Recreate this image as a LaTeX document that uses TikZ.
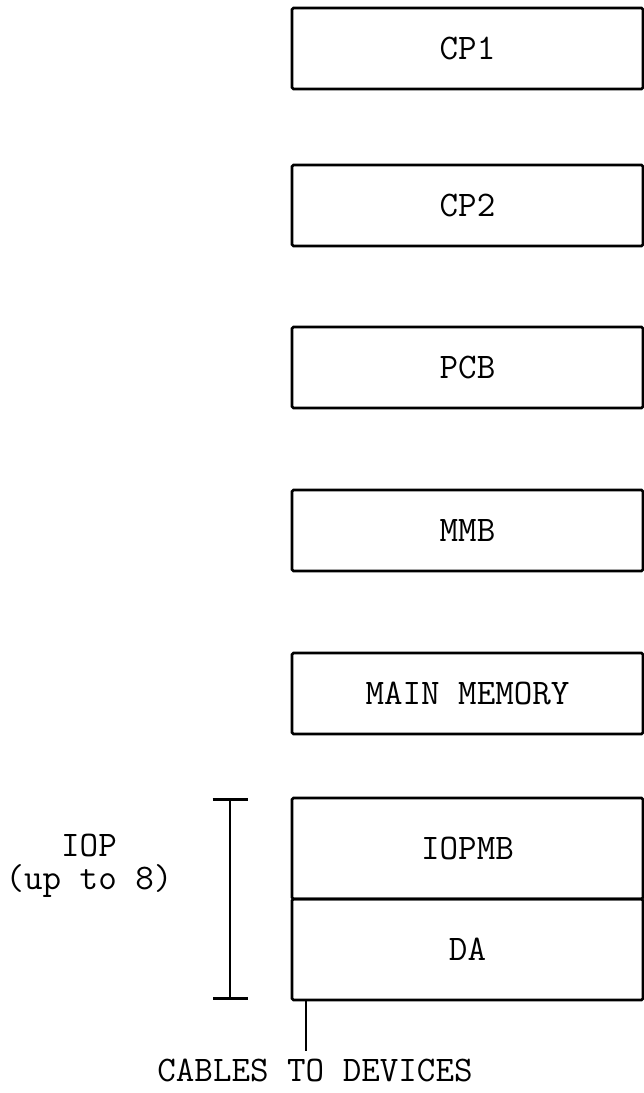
\documentclass[tikz,border=0pt]{standalone}
\usepackage{fontspec}
\usetikzlibrary{positioning,arrows.meta}
\newcommand{\typefont}{\ttfamily\fontsize{36}{33}\selectfont}
\tikzset{
    unitbox/.style={
        rectangle,
        draw,
        line width=2.8pt,
        rounded corners=1.5pt,
        outer sep=0pt,
        inner sep=0pt,
        minimum width=351pt,
        minimum height=#1,
        font=\typefont
    },
    unitbox/.default=81pt,
    plainlabel/.style={font=\typefont, align=center, inner sep=0pt},
    rule/.style={line width=2.8pt}
}
\begin{document}
\begin{tikzpicture}[x=1pt, y=-1pt, node distance=81pt]
\useasboundingbox (0,0) rectangle (644,1093);
% processor stack
\node[unitbox, anchor=north west] (cp1) at (292,8) {CP1};
\node[unitbox, below=76pt of cp1] (cp2) {CP2};
\node[unitbox, below=of cp2] (pcb) {PCB};
\node[unitbox, below=82pt of pcb] (mmb) {MMB};
\node[unitbox, below=82pt of mmb] (mainmem) {MAIN MEMORY};
\node[unitbox=101pt, below=64pt of mainmem] (iopmb) {IOPMB};
\node[unitbox=101pt, below=0pt of iopmb] (da) {DA};

% IOP bracket
\coordinate[left=62pt of iopmb.north west] (brtop);
\coordinate[left=62pt of da.south west] (brbot);
\draw[rule, {Bar[width=35pt]}-{Bar[width=35pt]}] (brtop) -- (brbot);
\node[plainlabel] (ioplabel) at (89,866) {IOP\\(up to 8)};

% cables
\coordinate (cabletop) at ([xshift=14pt]da.south west);
\coordinate[below=51pt of cabletop] (cableend);
\draw[rule] (cabletop) -- (cableend);
\node[plainlabel] (cables) at (315,1070) {CABLES TO DEVICES};
\end{tikzpicture}
\end{document}
